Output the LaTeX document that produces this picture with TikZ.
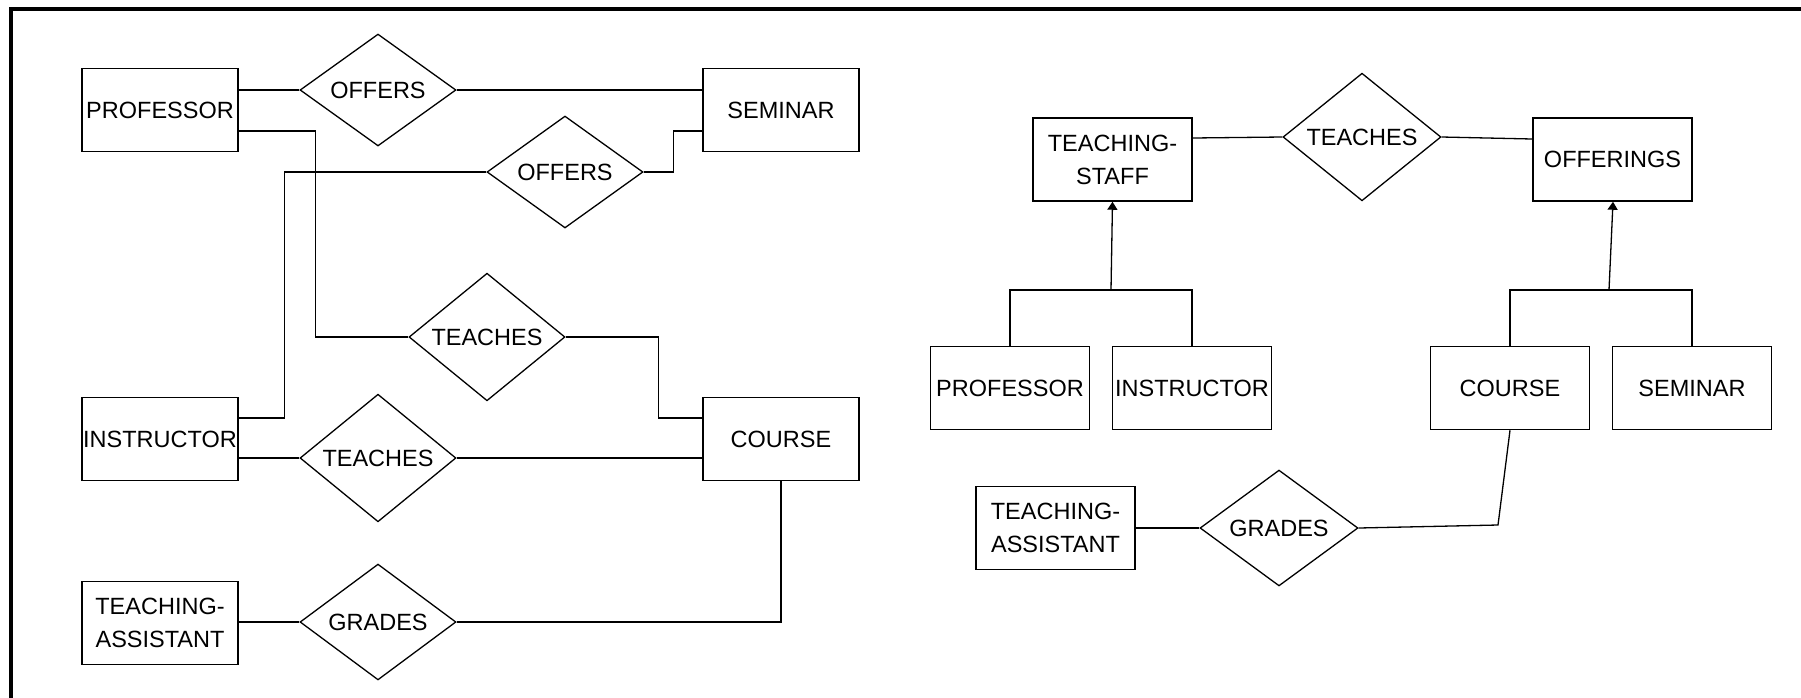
\documentclass[tikz,border=0pt]{standalone}
\usepackage{fontspec}
\setmainfont{Liberation Sans}
\usetikzlibrary{shapes.geometric,arrows.meta}

\begin{document}
\begin{tikzpicture}[x=1pt,y=-1pt,
  lbl/.style={font=\fontsize{23.5}{33}\selectfont, align=center},
  entity/.style={lbl, draw, line width=1.5pt, inner sep=0pt,
    minimum width=156pt, minimum height=83pt},
  wideentity/.style={entity, minimum width=159pt},
  rel/.style={lbl, draw, diamond, line width=1.3pt, inner sep=0pt,
    minimum width=156pt, minimum height=102pt},
  link/.style={line width=1.3pt},
  isa/.style={link, -{Triangle[width=10pt,length=8pt]}}]

\useasboundingbox (0,0) rectangle (1801,697);
\fill[white] (0,0) rectangle (1801,697);

% outer frame (only its top and left edges fall inside the page)
\draw[line width=4pt] (11,710) -- (11,9) -- (1815,9);

% ---------- left diagram ----------
\node[entity] (prof1)   at (160,110) {PROFESSOR};
\node[entity] (sem1)    at (781,110) {SEMINAR};
\node[entity] (instr1)  at (160,439) {INSTRUCTOR};
\node[entity] (course1) at (781,439) {COURSE};
\node[entity] (ta1)     at (160,623) {TEACHING-\\ASSISTANT};

\node[rel] (offers1)  at (378,90)  {OFFERS};
\node[rel] (offers2)  at (565,172) {OFFERS};
\node[rel] (teaches1) at (487,337) {TEACHES};
\node[rel] (teaches2) at (378,458) {TEACHES};
\node[rel] (grades1)  at (378,622) {GRADES};

\draw[link] (prof1.east |- offers1.west) -- (offers1.west);
\draw[link] (offers1.east) -- (offers1.east -| sem1.west);
\draw[link] ([yshift=-21pt]prof1.east) -- ++(77,0) |- (teaches1.west);
\draw[link] ([yshift=21pt]instr1.east) -- ++(46,0) |- (offers2.west);
\draw[link] (offers2.east) -- ++(30,0) |- ([yshift=-21pt]sem1.west);
\draw[link] (teaches1.east) -- ++(93,0) |- ([yshift=21pt]course1.west);
\draw[link] (instr1.east |- teaches2.west) -- (teaches2.west);
\draw[link] (teaches2.east) -- (teaches2.east -| course1.west);
\draw[link] (course1.south) |- (grades1.east);
\draw[link] (ta1.east |- grades1.west) -- (grades1.west);

% ---------- right diagram ----------
\node[wideentity] (staff)   at (1112.5,159.5) {TEACHING-\\STAFF};
\node[wideentity] (offer)   at (1612.5,159.5) {OFFERINGS};
\node[wideentity] (prof2)   at (1010,388)    {PROFESSOR};
\node[wideentity] (instr2)  at (1192,388)    {INSTRUCTOR};
\node[wideentity] (course2) at (1510,388)    {COURSE};
\node[wideentity] (sem2)    at (1692,388)    {SEMINAR};
\node[wideentity] (ta2)     at (1055.5,528)  {TEACHING-\\ASSISTANT};

\node[rel, minimum width=158pt] (teaches3) at (1362,137) {TEACHES};
\node[rel, minimum width=158pt] (grades2)  at (1279,528) {GRADES};

\coordinate (staffjoin) at (1111,290);
\coordinate (offerjoin) at (1609,290);
\coordinate (gradebend) at (1498,525);

\draw[link] (prof2.north) -- (prof2.north |- staffjoin) -- (instr2.north |- staffjoin) -- (instr2.north);
\draw[isa] (staffjoin) -- (staff.south);
\draw[link] (course2.north) -- (course2.north |- offerjoin) -- (sem2.north |- offerjoin) -- (sem2.north);
\draw[isa] (offerjoin) -- ([xshift=0.5pt]offer.south);

\draw[link] ([yshift=21.5pt]staff.east) -- (teaches3.west);
\draw[link] (teaches3.east) -- ([yshift=20.5pt]offer.west);
\draw[link] (ta2.east) -- (grades2.west);
\draw[link] (grades2.east) -- (gradebend) -- (course2.south);

\end{tikzpicture}
\end{document}
